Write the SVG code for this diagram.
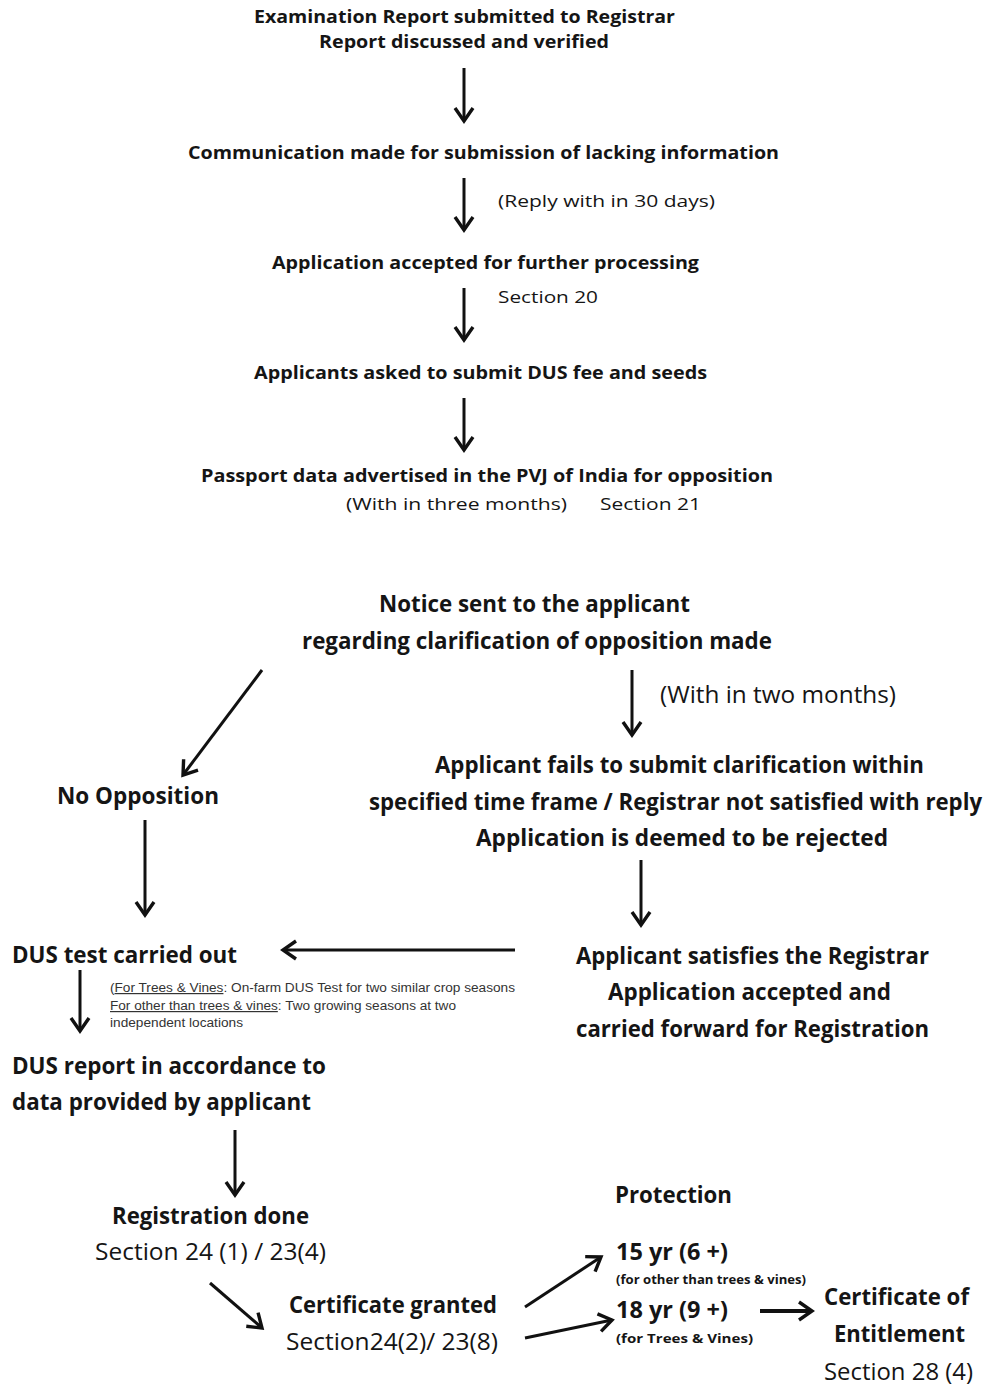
<svg xmlns="http://www.w3.org/2000/svg" width="995" height="1387" viewBox="0 0 995 1387">
<defs>
<marker id="ah" markerUnits="userSpaceOnUse" markerWidth="30" markerHeight="30" viewBox="-15 -15 30 30" refX="0" refY="0" orient="auto">
<path d="M-13,-9 L0,0 L-13,9" fill="none" stroke="#111" stroke-width="3.4"/>
</marker>
</defs>
<style>
text{font-family:"Open Sans","Liberation Sans",sans-serif;fill:#151515}
.t{font-size:17px;font-weight:bold}
.tr{font-size:17px}
.b{font-size:24px;font-weight:bold}
.br{font-size:24px}
.s{font-family:"Liberation Sans",Arial,sans-serif;font-size:12px;fill:#333}
.sb{font-size:12.5px;font-weight:bold}
.c line{stroke:#111;stroke-width:3;marker-end:url(#ah)}
</style>
<rect width="995" height="1387" fill="#fff"/>
<g id="n1"><text class="t" x="254" y="23" textLength="421" lengthAdjust="spacingAndGlyphs">Examination Report submitted to Registrar</text><text class="t" x="319" y="48" textLength="290" lengthAdjust="spacingAndGlyphs">Report discussed and verified</text></g>
<g id="n2"><text class="t" x="188" y="159" textLength="591" lengthAdjust="spacingAndGlyphs">Communication made for submission of lacking information</text></g>
<g id="l1"><text class="tr" x="498" y="207" textLength="217" lengthAdjust="spacingAndGlyphs">(Reply with in 30 days)</text></g>
<g id="n3"><text class="t" x="272" y="269" textLength="427" lengthAdjust="spacingAndGlyphs">Application accepted for further processing</text></g>
<g id="l2"><text class="tr" x="498" y="303" textLength="100" lengthAdjust="spacingAndGlyphs">Section 20</text></g>
<g id="n4"><text class="t" x="254" y="379" textLength="453" lengthAdjust="spacingAndGlyphs">Applicants asked to submit DUS fee and seeds</text></g>
<g id="n5"><text class="t" x="201" y="482" textLength="572" lengthAdjust="spacingAndGlyphs">Passport data advertised in the PVJ of India for opposition</text><text class="tr" x="346" y="510" textLength="221" lengthAdjust="spacingAndGlyphs">(With in three months)</text><text class="tr" x="600" y="510" textLength="101" lengthAdjust="spacingAndGlyphs">Section 21</text></g>
<g id="n6"><text class="b" x="379" y="612" textLength="311" lengthAdjust="spacingAndGlyphs">Notice sent to the applicant</text><text class="b" x="302" y="649" textLength="470" lengthAdjust="spacingAndGlyphs">regarding clarification of opposition made</text></g>
<g id="l3"><text class="br" x="660" y="703" textLength="236" lengthAdjust="spacingAndGlyphs">(With in two months)</text></g>
<g id="n7"><text class="b" x="57" y="804" textLength="162" lengthAdjust="spacingAndGlyphs">No Opposition</text></g>
<g id="n8"><text class="b" x="435" y="773" textLength="489" lengthAdjust="spacingAndGlyphs">Applicant fails to submit clarification within</text><text class="b" transform="translate(369,810) scale(0.78,1)" x="0" y="0" textLength="786" lengthAdjust="spacingAndGlyphs">specified time frame / Registrar not satisfied with reply</text><text class="b" x="476" y="846" textLength="412" lengthAdjust="spacingAndGlyphs">Application is deemed to be rejected</text></g>
<g id="n9"><text class="b" x="12" y="963" textLength="225" lengthAdjust="spacingAndGlyphs">DUS test carried out</text></g>
<g id="l4"><text class="s" x="110" y="992" textLength="405" lengthAdjust="spacingAndGlyphs">(<tspan text-decoration="underline">For Trees &amp; Vines</tspan>: On-farm DUS Test for two similar crop seasons</text><text class="s" x="110" y="1010" textLength="346" lengthAdjust="spacingAndGlyphs"><tspan text-decoration="underline">For other than trees &amp; vines</tspan>: Two growing seasons at two</text><text class="s" x="110" y="1027" textLength="133" lengthAdjust="spacingAndGlyphs">independent locations</text></g>
<g id="n10"><text class="b" x="576" y="964" textLength="353" lengthAdjust="spacingAndGlyphs">Applicant satisfies the Registrar</text><text class="b" x="608" y="1000" textLength="283" lengthAdjust="spacingAndGlyphs">Application accepted and</text><text class="b" x="576" y="1037" textLength="353" lengthAdjust="spacingAndGlyphs">carried forward for Registration</text></g>
<g id="n11"><text class="b" x="12" y="1074" textLength="314" lengthAdjust="spacingAndGlyphs">DUS report in accordance to</text><text class="b" x="12" y="1110" textLength="299" lengthAdjust="spacingAndGlyphs">data provided by applicant</text></g>
<g id="n12"><text class="b" x="615" y="1203" textLength="117" lengthAdjust="spacingAndGlyphs">Protection</text></g>
<g id="n13"><text class="b" x="112" y="1224" textLength="197" lengthAdjust="spacingAndGlyphs">Registration done</text><text class="br" x="95" y="1260" textLength="231" lengthAdjust="spacingAndGlyphs">Section 24 (1) / 23(4)</text></g>
<g id="n14"><text class="b" x="289" y="1313" textLength="208" lengthAdjust="spacingAndGlyphs">Certificate granted</text><text class="br" x="286" y="1350" textLength="212" lengthAdjust="spacingAndGlyphs">Section24(2)/ 23(8)</text></g>
<g id="n15"><text class="b" x="616" y="1260" textLength="112" lengthAdjust="spacingAndGlyphs">15 yr (6 +)</text><text class="sb" x="616" y="1284" textLength="190" lengthAdjust="spacingAndGlyphs">(for other than trees &amp; vines)</text></g>
<g id="n16"><text class="b" x="616" y="1318" textLength="112" lengthAdjust="spacingAndGlyphs">18 yr (9 +)</text><text class="sb" x="616" y="1343" textLength="137" lengthAdjust="spacingAndGlyphs">(for Trees &amp; Vines)</text></g>
<g id="n17"><text class="b" x="824" y="1305" textLength="145" lengthAdjust="spacingAndGlyphs">Certificate of</text><text class="b" x="834" y="1342" textLength="131" lengthAdjust="spacingAndGlyphs">Entitlement</text><text class="br" x="824" y="1380" textLength="149" lengthAdjust="spacingAndGlyphs">Section 28 (4)</text></g>
<g id="connectors" class="c">
<line x1="464" y1="68" x2="464" y2="121"/>
<line x1="464" y1="178" x2="464" y2="230"/>
<line x1="464" y1="288" x2="464" y2="340"/>
<line x1="464" y1="398" x2="464" y2="450"/>
<line x1="262" y1="670" x2="183" y2="775"/>
<line x1="632" y1="670" x2="632" y2="735"/>
<line x1="145" y1="820" x2="145" y2="915"/>
<line x1="641" y1="860" x2="641" y2="925"/>
<line x1="515" y1="950" x2="283" y2="950"/>
<line x1="80" y1="970" x2="80" y2="1031"/>
<line x1="235" y1="1130" x2="235" y2="1195"/>
<line x1="210" y1="1283" x2="262" y2="1328"/>
<line x1="525" y1="1307" x2="601" y2="1257"/>
<line x1="525" y1="1338" x2="612" y2="1320"/>
<line x1="760" y1="1311" x2="812" y2="1311" style="stroke-width:4"/>
</g>
</svg>
